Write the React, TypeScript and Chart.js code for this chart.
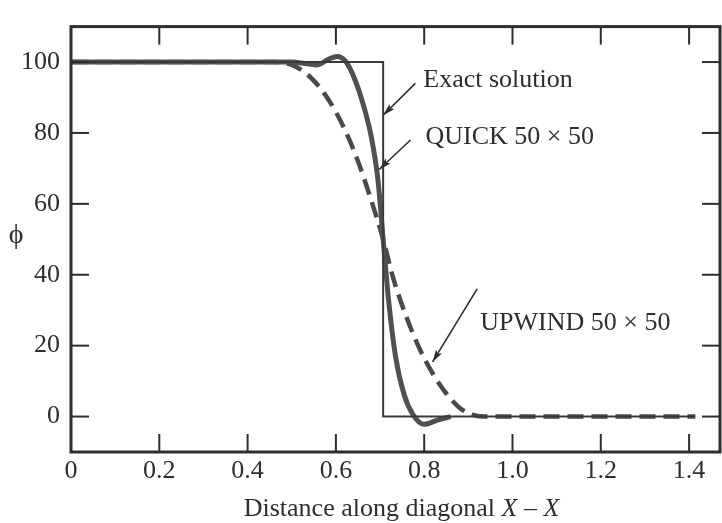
import React, { useEffect, useRef } from "react";
import { Chart, registerables } from "chart.js";

Chart.register(...registerables);

// ---- data ----
const exactX = [0, 0.707, 0.707, 1.414];
const exactY = [100, 100, 0, 0];

const quickX = [0, 0.5, 0.53, 0.558, 0.583, 0.603, 0.622, 0.64, 0.662, 0.68, 0.695, 0.707, 0.72, 0.735, 0.755, 0.775, 0.8, 0.83, 0.86];
const quickY = [100, 100, 99.6, 99.2, 100.8, 101.6, 100.2, 96, 88, 79, 67, 50, 32, 17, 6, 0.5, -2.2, -1, 0];

const upwindX = [0, 0.46, 0.5, 0.54, 0.58, 0.62, 0.65, 0.68, 0.707, 0.73, 0.76, 0.79, 0.82, 0.85, 0.88, 0.91, 0.94, 1.414];
const upwindY = [100, 100, 99.2, 96, 90, 81, 72, 61, 50, 39, 28, 19, 12, 6.5, 2.5, 0.5, 0, 0];

const xTickValues = [0, 0.2, 0.4, 0.6, 0.8, 1.0, 1.2, 1.4];
const xTickLabels = ["0", "0.2", "0.4", "0.6", "0.8", "1.0", "1.2", "1.4"];
const yTickValues = [0, 20, 40, 60, 80, 100];
const yTickLabels = ["0", "20", "40", "60", "80", "100"];

const xTitleParts = ["Distance along diagonal ", "X", " \u2013 ", "X"];
const xTitleItalic = [false, true, false, true];
const yTitle = "\u03d5";

const annotationTexts = ["Exact solution", "QUICK 50 \u00d7 50", "UPWIND 50 \u00d7 50"];
const annotationTextX = [0.798, 0.803, 0.927];
const annotationTextY = [95, 78.8, 26.4];
const arrowTailX = [0.78, 0.769, 0.92];
const arrowTailY = [94, 78, 36];
const arrowTipX = [0.707, 0.698, 0.819];
const arrowTipY = [85, 69.7, 15.4];

const FONT = "'Liberation Serif', 'Times New Roman', serif";
const INK = "#2e2e2e";

const toPts = (xs: number[], ys: number[]) => xs.map((x, i) => ({ x, y: ys[i] }));

const decorPlugin = {
  id: "decor",
  beforeDraw(chart: any) {
    const { ctx, width, height } = chart;
    ctx.save();
    ctx.fillStyle = "#ffffff";
    ctx.fillRect(0, 0, width, height);
    ctx.restore();
  },
  afterDatasetsDraw(chart: any) {
    const { ctx, chartArea: a, scales } = chart;
    const xs = scales.x;
    const ys = scales.y;
    const line = (x1: number, y1: number, x2: number, y2: number) => {
      ctx.beginPath();
      ctx.moveTo(x1, y1);
      ctx.lineTo(x2, y2);
      ctx.stroke();
    };
    ctx.save();
    ctx.strokeStyle = INK;
    ctx.lineCap = "butt";
    ctx.lineWidth = 3;
    ctx.strokeRect(a.left, a.top, a.right - a.left, a.bottom - a.top);
    ctx.lineWidth = 2;
    const L = 18;
    xTickValues.forEach((v) => {
      if (v === 0) return;
      const px = xs.getPixelForValue(v);
      line(px, a.bottom, px, a.bottom - L);
      line(px, a.top, px, a.top + L);
    });
    yTickValues.forEach((v) => {
      const py = ys.getPixelForValue(v);
      line(a.left, py, a.left + L, py);
      line(a.right, py, a.right - L, py);
    });

    // annotations with arrows
    ctx.fillStyle = INK;
    ctx.font = `26px ${FONT}`;
    ctx.textAlign = "left";
    ctx.textBaseline = "middle";
    annotationTexts.forEach((t, i) => {
      ctx.fillText(t, xs.getPixelForValue(annotationTextX[i]), ys.getPixelForValue(annotationTextY[i]));
      const tx = xs.getPixelForValue(arrowTailX[i]);
      const ty = ys.getPixelForValue(arrowTailY[i]);
      const hx = xs.getPixelForValue(arrowTipX[i]);
      const hy = ys.getPixelForValue(arrowTipY[i]);
      ctx.lineWidth = 1.6;
      line(tx, ty, hx, hy);
      const ang = Math.atan2(hy - ty, hx - tx);
      const hl = 13;
      const hw = 0.28;
      ctx.beginPath();
      ctx.moveTo(hx, hy);
      ctx.lineTo(hx - hl * Math.cos(ang - hw), hy - hl * Math.sin(ang - hw));
      ctx.lineTo(hx - hl * 0.75 * Math.cos(ang), hy - hl * 0.75 * Math.sin(ang));
      ctx.lineTo(hx - hl * Math.cos(ang + hw), hy - hl * Math.sin(ang + hw));
      ctx.closePath();
      ctx.fill();
    });

    // y-axis symbol
    ctx.textAlign = "center";
    ctx.textBaseline = "middle";
    ctx.font = `28px ${FONT}`;
    ctx.fillText(yTitle, 16, (a.top + a.bottom) / 2 - 4);

    // x-axis title with italic X
    const fonts = xTitleItalic.map((it) => `${it ? "italic " : ""}26px ${FONT}`);
    let total = 0;
    const widths = xTitleParts.map((p, i) => {
      ctx.font = fonts[i];
      const w = ctx.measureText(p).width;
      total += w;
      return w;
    });
    let cx = (a.left + a.right) / 2 + 6 - total / 2;
    ctx.textAlign = "left";
    ctx.textBaseline = "alphabetic";
    xTitleParts.forEach((p, i) => {
      ctx.font = fonts[i];
      ctx.fillText(p, cx, 516);
      cx += widths[i];
    });
    ctx.restore();
  },
};

export default function App() {
  const ref = useRef<HTMLCanvasElement | null>(null);
  useEffect(() => {
    if (!ref.current) return;
    const chart = new Chart(ref.current, {
      type: "scatter",
      data: {
        datasets: [
          {
            label: "Exact solution",
            data: toPts(exactX, exactY),
            showLine: true,
            borderColor: "#3a3a3a",
            borderWidth: 2,
            pointRadius: 0,
            tension: 0,
          },
          {
            label: "QUICK 50 × 50",
            data: toPts(quickX, quickY),
            showLine: true,
            borderColor: "#505050",
            borderWidth: 5,
            pointRadius: 0,
            cubicInterpolationMode: "monotone",
          },
          {
            label: "UPWIND 50 × 50",
            data: toPts(upwindX, upwindY),
            showLine: true,
            borderColor: "#4a4a4a",
            borderWidth: 4.5,
            borderDash: [16, 8],
            pointRadius: 0,
            cubicInterpolationMode: "monotone",
          },
        ],
      },
      options: {
        animation: false,
        responsive: false,
        layout: { padding: { top: 18, right: 2, left: 0, bottom: 0 } },
        plugins: { legend: { display: false }, tooltip: { enabled: false } },
        scales: {
          x: {
            type: "linear",
            min: 0,
            max: 1.47,
            afterBuildTicks: (s: any) => {
              s.ticks = xTickValues.map((v) => ({ value: v }));
            },
            afterFit: (s: any) => {
              s.height = 71;
            },
            ticks: {
              callback: (_v: any, i: number) => xTickLabels[i],
              font: { family: FONT, size: 26 },
              color: INK,
              padding: 4,
              maxRotation: 0,
              autoSkip: false,
            },
            grid: { display: false, drawTicks: false },
            border: { display: false },
          },
          y: {
            type: "linear",
            min: -10,
            max: 110,
            afterBuildTicks: (s: any) => {
              s.ticks = yTickValues.map((v) => ({ value: v }));
            },
            afterFit: (s: any) => {
              s.width = 71;
            },
            ticks: {
              callback: (_v: any, i: number) => yTickLabels[i],
              font: { family: FONT, size: 26 },
              color: INK,
              padding: 11,
            },
            grid: { display: false, drawTicks: false },
            border: { display: false },
          },
        },
      },
      plugins: [decorPlugin],
    } as any);
    return () => chart.destroy();
  }, []);
  return (
    <div style={{ position: "fixed", left: 0, top: 0, width: 722, height: 523 }}>
      <canvas ref={ref} width={722} height={523} style={{ display: "block" }} />
    </div>
  );
}
